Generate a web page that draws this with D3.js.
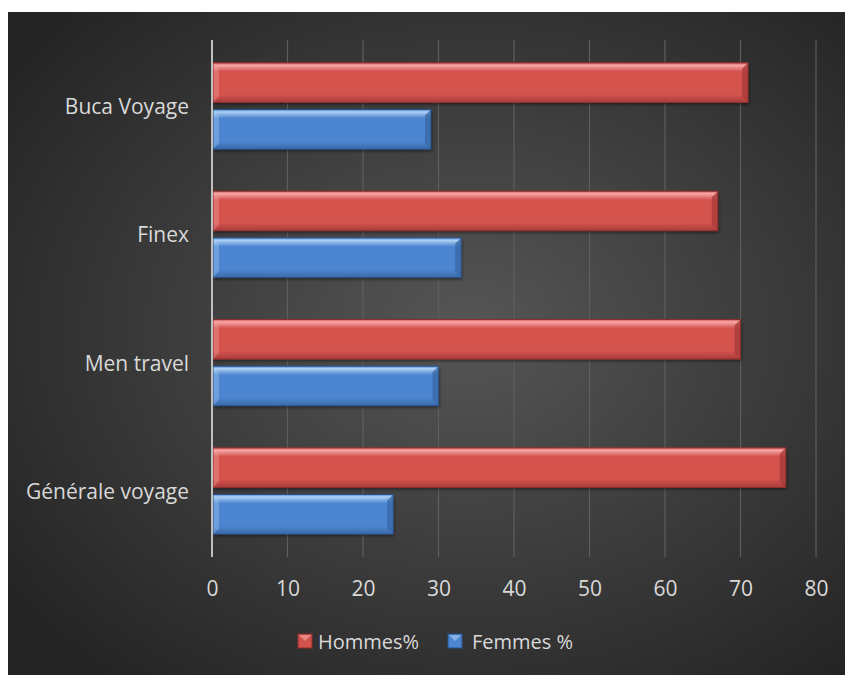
<!DOCTYPE html>
<html>
<head>
<meta charset="utf-8">
<script src="https://cdn.jsdelivr.net/npm/d3@7"></script>
<style>
  html, body { margin: 0; padding: 0; background: #fff; }
  svg text { font-family: "Open Sans", "Noto Sans", sans-serif; fill: #d9d9d9; }
</style>
</head>
<body>
<div id="chart"></div>
<script>
const categories = ['Buca Voyage', 'Finex', 'Men travel', 'Générale voyage'];
const seriesNames = ['Hommes%', 'Femmes %'];
const hommes = [71, 67, 70, 76];
const femmes = [29, 33, 30, 24];
const xTicks = [0, 10, 20, 30, 40, 50, 60, 70, 80];

const W = 845, H = 675;
const svg = d3.select('#chart').append('svg').attr('width', W).attr('height', H);
const defs = svg.append('defs');

// ── background radial gradient ──
const bg = defs.append('radialGradient').attr('id', 'bg')
  .attr('cx', '55%').attr('cy', '48%').attr('r', '68%');
bg.append('stop').attr('offset', '0%').attr('stop-color', '#565656');
bg.append('stop').attr('offset', '100%').attr('stop-color', '#242424');

// ── bar gradients (top highlight → body → darker bottom) ──
const PAL = {
  'Hommes%':  { hi: '#f7a9a7', body: '#d4524e', lo: '#a83c39', edge: '#8e2f2d' },
  'Femmes %': { hi: '#afd0f5', body: '#4d86d0', lo: '#3a69a8', edge: '#2c528a' }
};
Object.entries(PAL).forEach(([k, c], i) => {
  const lg = defs.append('linearGradient').attr('id', 'bar' + i)
    .attr('x1', 0).attr('y1', 0).attr('x2', 0).attr('y2', 1);
  lg.append('stop').attr('offset', '0%').attr('stop-color', c.body);
  lg.append('stop').attr('offset', '6%').attr('stop-color', c.hi);
  lg.append('stop').attr('offset', '22%').attr('stop-color', c.body);
  lg.append('stop').attr('offset', '80%').attr('stop-color', c.body);
  lg.append('stop').attr('offset', '100%').attr('stop-color', c.lo);
});

const shadow = defs.append('filter').attr('id', 'shadow')
  .attr('x', '-10%').attr('y', '-30%').attr('width', '120%').attr('height', '170%');
shadow.append('feDropShadow').attr('dx', 1).attr('dy', 2).attr('stdDeviation', 1.5)
  .attr('flood-color', '#000').attr('flood-opacity', 0.45);

svg.append('rect').attr('x', 8).attr('y', 12).attr('width', W - 8).attr('height', H - 12)
  .attr('fill', 'url(#bg)');

// ── scales ──
const x = d3.scaleLinear().domain([0, 80]).range([212, 816]);
const y0 = d3.scaleBand().domain(categories).range([40, 557])
  .paddingInner(0.327).paddingOuter(0.178);
const y1 = d3.scaleBand().domain(seriesNames).range([0, y0.bandwidth()]).paddingInner(0.15);

// grid
svg.append('g').selectAll('line').data(xTicks.slice(1)).join('line')
  .attr('x1', d => x(d)).attr('x2', d => x(d))
  .attr('y1', 40).attr('y2', 557)
  .attr('stroke', '#5e5e5e').attr('stroke-width', 1.2);

// x axis tick labels
const xAxis = svg.append('g').attr('transform', 'translate(0,557)')
  .call(d3.axisBottom(x).tickValues(xTicks).tickSize(0).tickPadding(0));
xAxis.select('.domain').remove();
xAxis.selectAll('text').attr('y', 31).attr('dy', '0.36em')
  .style('font-size', '21px').attr('fill', '#d9d9d9');

// ── bars ──
const rows = categories.map((c, i) => ({ cat: c, vals: [hommes[i], femmes[i]] }));
const bw = y1.bandwidth(), bev = 6;

const groups = svg.append('g').selectAll('g').data(rows).join('g')
  .attr('transform', d => `translate(0,${y0(d.cat)})`);

groups.each(function(d) {
  const g = d3.select(this);
  d.vals.forEach((v, i) => {
    const s = seriesNames[i], c = PAL[s];
    const x0 = x(0) + 1, x1 = x(v), yt = y1(s), yb = yt + bw;
    const b = g.append('g');
    b.append('rect').attr('x', x0).attr('y', yt).attr('width', x1 - x0).attr('height', bw)
      .attr('fill', 'url(#bar' + i + ')').attr('filter', 'url(#shadow)');
    // left bevel (lighter), right bevel (darker)
    b.append('path')
      .attr('d', `M${x0},${yt} L${x0 + bev},${yt + bev} L${x0 + bev},${yb - bev} L${x0},${yb} Z`)
      .attr('fill', c.hi).attr('opacity', 0.35);
    b.append('path')
      .attr('d', `M${x1},${yt} L${x1 - bev},${yt + bev} L${x1 - bev},${yb - bev} L${x1},${yb} Z`)
      .attr('fill', c.lo).attr('opacity', 0.8);
    b.append('rect').attr('x', x0).attr('y', yt).attr('width', x1 - x0).attr('height', bw)
      .attr('fill', 'none').attr('stroke', c.edge).attr('stroke-width', 1);
  });
});

// category labels
svg.append('g').selectAll('text').data(categories).join('text')
  .attr('x', 189).attr('y', d => y0(d) + y0.bandwidth() / 2)
  .attr('text-anchor', 'end').attr('dominant-baseline', 'central')
  .style('font-size', '21px').text(d => d);

// axis line
svg.append('line').attr('x1', x(0)).attr('x2', x(0)).attr('y1', 40).attr('y2', 557)
  .attr('stroke', '#bfbfbf').attr('stroke-width', 2);

// ── legend ──
const legendX = [298, 448];
const leg = svg.append('g').selectAll('g').data(seriesNames).join('g')
  .attr('transform', (d, i) => `translate(${legendX[i]},634)`);
leg.append('rect').attr('width', 14).attr('height', 14)
  .attr('fill', (d, i) => PAL[d].body).attr('stroke', d => PAL[d].edge);
leg.append('path').attr('d', 'M1,1 L7,7 L13,1 Z').attr('fill', d => PAL[d].hi).attr('opacity', 0.6);
leg.append('text').attr('x', (d, i) => i === 0 ? 20 : 24).attr('y', 7)
  .attr('dominant-baseline', 'central').style('font-size', '20px').text(d => d);
</script>
</body>
</html>
